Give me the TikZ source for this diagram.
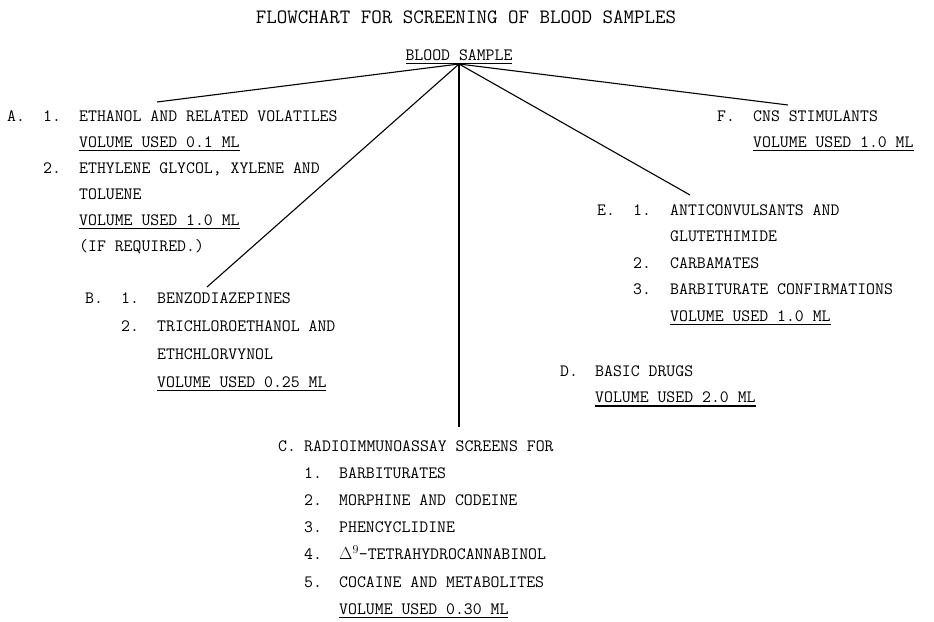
\documentclass[tikz,border=0pt]{standalone}
\usepackage{tikz}
\usepackage{array}
\usetikzlibrary{calc}
\usetikzlibrary{positioning}

\newcommand\volume[1]{\setbox0\hbox{#1}\rlap{\rule[-4pt]{\wd0}{1.1pt}}\box0}

\tikzset{
  block/.style={anchor=base west, inner sep=0pt, align=left,
    font=\ttfamily\fontsize{17.3}{26.5}\selectfont},
  link/.style={line width=1.1pt}
}

\begin{document}
\begin{tikzpicture}[x=1pt,y=-1pt]
    \useasboundingbox (0,0) rectangle (934,621);
    \node[font=\ttfamily\fontsize{20.4}{24}\selectfont] (title) at (466,17) {FLOWCHART FOR SCREENING OF BLOOD SAMPLES};
    \node[anchor=base, inner sep=0pt, font=\ttfamily\fontsize{17.3}{26.5}\selectfont] (blood) at (459,60) {\volume{BLOOD SAMPLE}};
    \coordinate (apex) at ([yshift=-4pt]blood.base);
    % A
    \node[block, font=\ttfamily\fontsize{17.3}{26}\selectfont] (A) at (7,121) {%
      \begin{tabular}[t]{@{}p{36pt}@{}p{36pt}@{}l@{}}
        A. & 1. & ETHANOL AND RELATED VOLATILES\\
           &    & \volume{VOLUME USED 0.1 ML}\\
           & 2. & ETHYLENE GLYCOL, XYLENE AND\\
           &    & TOLUENE\\
           &    & \volume{VOLUME USED 1.0 ML}\\
           &    & (IF REQUIRED.)
      \end{tabular}};
    % B
    \node[block, font=\ttfamily\fontsize{17.3}{28}\selectfont] (B) at (85,303) {%
      \begin{tabular}[t]{@{}p{36pt}@{}p{36pt}@{}l@{}}
        B. & 1. & BENZODIAZEPINES\\
           & 2. & TRICHLOROETHANOL AND\\
           &    & ETHCHLORVYNOL\\
           &    & \volume{VOLUME USED 0.25 ML}
      \end{tabular}};
    % C
    \node[block, font=\ttfamily\fontsize{17.3}{27.2}\selectfont] (C) at (278,451) {%
      \begin{tabular}[t]{@{}p{26pt}@{}p{35pt}@{}l@{}}
        C. & \multicolumn{2}{@{}l@{}}{RADIOIMMUNOASSAY SCREENS FOR}\\
           & 1. & BARBITURATES\\
           & 2. & MORPHINE AND CODEINE\\
           & 3. & PHENCYCLIDINE\\
           & 4. & $\Delta^{9}$-TETRAHYDROCANNABINOL\\
           & 5. & COCAINE AND METABOLITES\\
           &    & \volume{VOLUME USED 0.30 ML}
      \end{tabular}};
    % D
    \node[block] (D) at (560,376) {%
      \begin{tabular}[t]{@{}p{35pt}@{}l@{}}
        D. & BASIC DRUGS\\
           & \volume{VOLUME USED 2.0 ML}
      \end{tabular}};
    % E
    \node[block] (E) at (597,215) {%
      \begin{tabular}[t]{@{}p{36pt}@{}p{37pt}@{}l@{}}
        E. & 1. & ANTICONVULSANTS AND\\
           &    & GLUTETHIMIDE\\
           & 2. & CARBAMATES\\
           & 3. & BARBITURATE CONFIRMATIONS\\
           &    & \volume{VOLUME USED 1.0 ML}
      \end{tabular}};
    % F
    \node[block, font=\ttfamily\fontsize{17.3}{26}\selectfont] (F) at (717,121) {%
      \begin{tabular}[t]{@{}p{36pt}@{}l@{}}
        F. & CNS STIMULANTS\\
           & \volume{VOLUME USED 1.0 ML}
      \end{tabular}};
    \coordinate (endA) at (157,102);
    \coordinate (endB) at (207,287);
    \coordinate (endC) at (459,427);
    \coordinate (endE) at (690,195);
    \coordinate (endF) at (788,105);
    \path [link] (apex) edge (endA);
    \path [link] (apex) edge (endB);
    \path [link] (apex) edge (endC);
    \path [link] (apex) edge (endE);
    \path [link] (apex) edge (endF);
  \end{tikzpicture}
\end{document}
